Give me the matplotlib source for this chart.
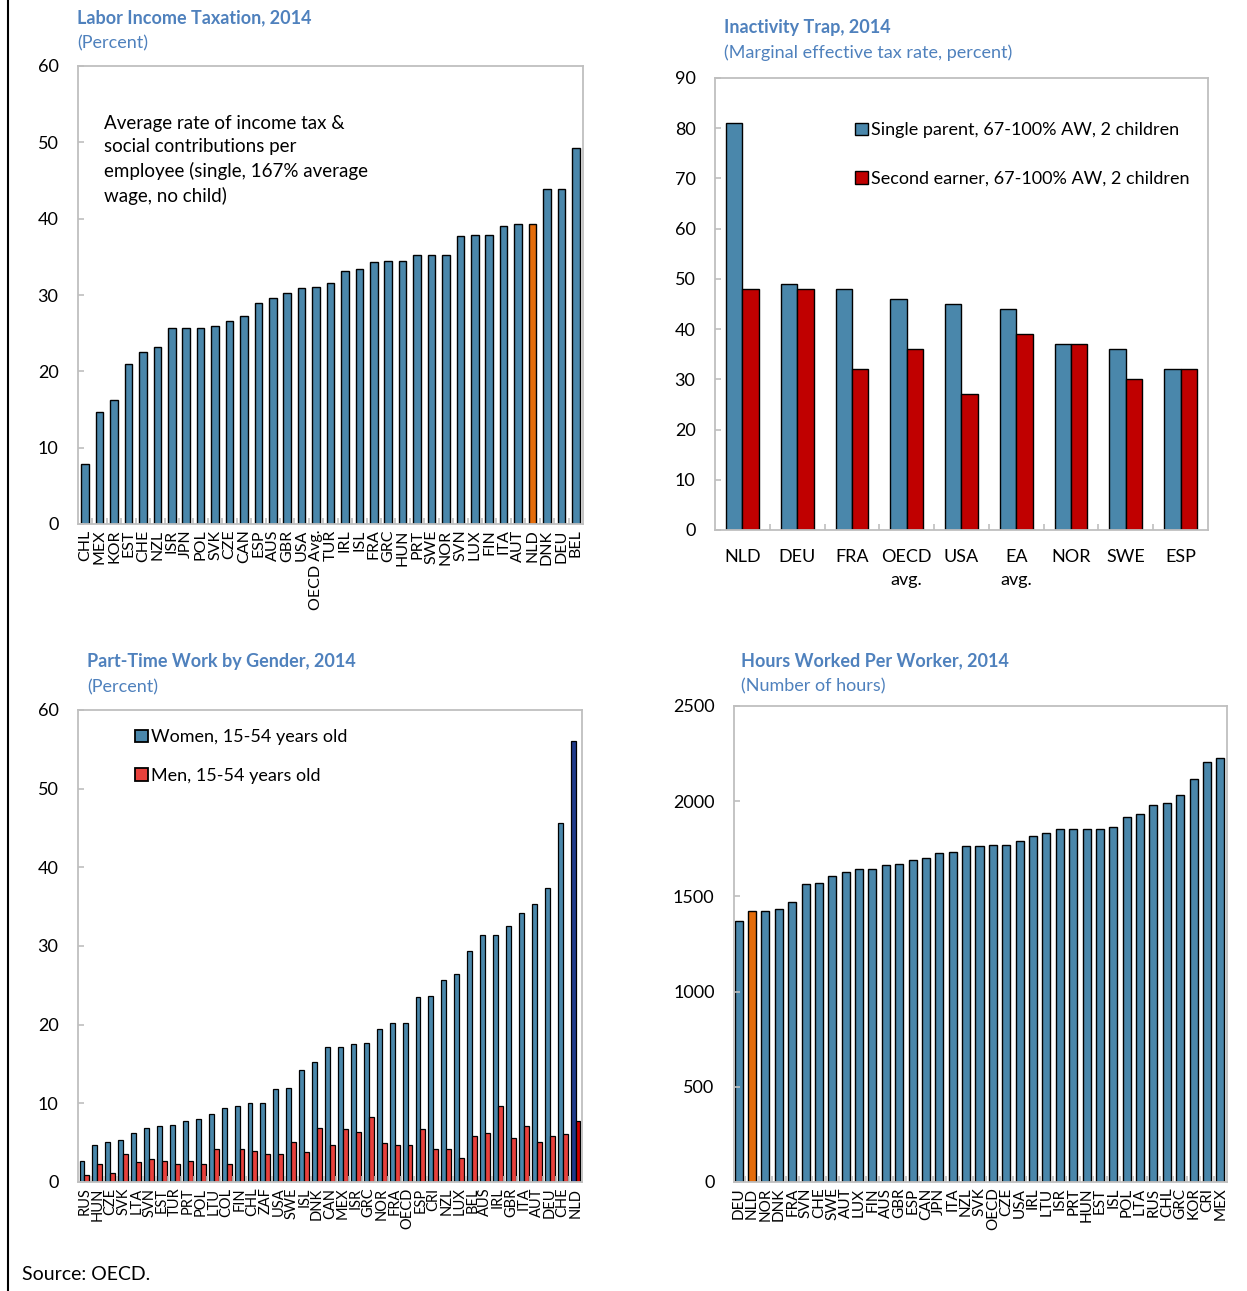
import numpy as np
import matplotlib
matplotlib.use('Agg')
import matplotlib.pyplot as plt
from matplotlib.lines import Line2D

plt.rcParams['font.family'] = ['Lato', 'DejaVu Sans']

# panel 1: labor income taxation
tax_labels = ['CHL', 'MEX', 'KOR', 'EST', 'CHE', 'NZL', 'ISR', 'JPN', 'POL', 'SVK', 'CZE', 'CAN',
              'ESP', 'AUS', 'GBR', 'USA', 'OECD Avg.', 'TUR', 'IRL', 'ISL', 'FRA', 'GRC', 'HUN',
              'PRT', 'SWE', 'NOR', 'SVN', 'LUX', 'FIN', 'ITA', 'AUT', 'NLD', 'DNK', 'DEU', 'BEL']
tax_values = [7.9, 14.7, 16.3, 20.9, 22.5, 23.2, 25.7, 25.7, 25.7, 25.9, 26.6, 27.3,
              28.9, 29.6, 30.3, 30.9, 31.1, 31.6, 33.2, 33.4, 34.3, 34.5, 34.5,
              35.2, 35.2, 35.2, 37.7, 37.9, 37.9, 39.1, 39.3, 39.3, 43.9, 43.9, 49.3]

# panel 2: inactivity trap
trap_labels = ['NLD', 'DEU', 'FRA', 'OECD\navg.', 'USA', 'EA\navg.', 'NOR', 'SWE', 'ESP']
single_parent = [81, 49, 48, 46, 45, 44, 37, 36, 32]
second_earner = [48, 48, 32, 36, 27, 39, 37, 30, 32]

# panel 3: part-time work by gender
pt_labels = ['RUS', 'HUN', 'CZE', 'SVK', 'LTA', 'SVN', 'EST', 'TUR', 'PRT', 'POL', 'LTU', 'COL',
             'FIN', 'CHL', 'ZAF', 'USA', 'SWE', 'ISL', 'DNK', 'CAN', 'MEX', 'ISR', 'GRC', 'NOR',
             'FRA', 'OECD', 'ESP', 'CRI', 'NZL', 'LUX', 'BEL', 'AUS', 'IRL', 'GBR', 'ITA', 'AUT',
             'DEU', 'CHE', 'NLD']
pt_women = [2.7, 4.7, 5.1, 5.3, 6.2, 6.9, 7.1, 7.3, 7.8, 8.0, 8.7, 9.4,
            9.6, 10.0, 10.0, 11.8, 12.0, 14.2, 15.3, 17.1, 17.1, 17.5, 17.7, 19.5,
            20.2, 20.2, 23.5, 23.7, 25.7, 26.4, 29.4, 31.4, 31.4, 32.5, 34.2, 35.4,
            37.4, 45.6, 56.0]
pt_men = [0.9, 2.3, 1.1, 3.6, 2.5, 2.9, 2.7, 2.3, 2.7, 2.3, 4.2, 2.3,
          4.2, 4.0, 3.6, 3.6, 5.1, 3.8, 6.9, 4.7, 6.7, 6.4, 8.2, 4.9,
          4.7, 4.7, 6.7, 4.2, 4.2, 3.1, 5.8, 6.2, 9.6, 5.6, 7.1, 5.1,
          5.8, 6.1, 7.8]

# panel 4: hours worked per worker
hrs_labels = ['DEU', 'NLD', 'NOR', 'DNK', 'FRA', 'SVN', 'CHE', 'SWE', 'AUT', 'LUX', 'FIN', 'AUS',
              'GBR', 'ESP', 'CAN', 'JPN', 'ITA', 'NZL', 'SVK', 'OECD', 'CZE', 'USA', 'IRL', 'LTU',
              'ISR', 'PRT', 'HUN', 'EST', 'ISL', 'POL', 'LTA', 'RUS', 'CHL', 'GRC', 'KOR', 'CRI', 'MEX']
hrs_values = [1372, 1424, 1424, 1435, 1471, 1564, 1572, 1609, 1627, 1644, 1644, 1663,
              1672, 1689, 1700, 1726, 1735, 1763, 1763, 1771, 1771, 1790, 1817, 1834,
              1853, 1853, 1853, 1853, 1862, 1916, 1935, 1981, 1990, 2035, 2117, 2208, 2225]

BLUE = '#4A87AB'
ORANGE = '#E46C0A'
DARKRED = '#C00000'
RED = '#E8413C'
NAVY = '#1F3A8A'
TITLE = '#4F81BD'
FRAME = '#BFBFBF'

W, H = 1247, 1291
fig = plt.figure(figsize=(W / 100, H / 100), dpi=100)


def add_ax(l, t, r, b):
    return fig.add_axes([l / W, 1 - b / H, (r - l) / W, (b - t) / H])


def style(ax, n, xlim):
    for s in ax.spines.values():
        s.set_color(FRAME)
        s.set_linewidth(1.3)
    ax.set_xlim(*xlim)
    ax.set_xticks(np.arange(n))
    ax.set_xticks(np.arange(n - 1) + 0.5, minor=True)
    ax.tick_params(axis='x', which='major', length=0, pad=4)
    ax.tick_params(axis='x', which='minor', direction='in', length=4, color=FRAME, width=1.2)
    ax.tick_params(axis='y', direction='in', length=4, color=FRAME, width=1.2,
                   labelsize=13, pad=14)


def titles(x, y, title, sub):
    fig.text(x / W, 1 - y / H, title, color=TITLE, fontsize=13, fontweight='bold', va='center')
    fig.text(x / W, 1 - (y + 25) / H, sub, color=TITLE, fontsize=13, va='center')


# ---- panel 1
ax1 = add_ax(78, 66, 583, 524)
x1 = np.arange(len(tax_labels))
cols1 = [ORANGE if c == 'NLD' else BLUE for c in tax_labels]
ax1.bar(x1, tax_values, width=0.52, color=cols1, edgecolor='black', linewidth=1)
ax1.set_ylim(0, 60)
ax1.set_yticks(range(0, 61, 10))
style(ax1, len(tax_labels), (-0.5, 34.5))
ax1.set_xticklabels(tax_labels, rotation=90, fontsize=11.5, va='top', linespacing=0.9)
ax1.text(0.051, 0.893, 'Average rate of income tax &\nsocial contributions per\n'
         'employee (single, 167% average\nwage, no child)',
         transform=ax1.transAxes, fontsize=13.5, va='top', linespacing=1.45)
titles(77, 18, 'Labor Income Taxation, 2014', '(Percent)')

# ---- panel 2
ax2 = add_ax(715, 78, 1208, 530)
x2 = np.arange(len(trap_labels))
ax2.bar(x2 - 0.15, single_parent, width=0.3, color=BLUE, edgecolor='black', linewidth=1,
        label='Single parent, 67-100% AW, 2 children')
ax2.bar(x2 + 0.15, second_earner, width=0.3, color=DARKRED, edgecolor='black', linewidth=1,
        label='Second earner, 67-100% AW, 2 children')
ax2.set_ylim(0, 90)
ax2.set_yticks(range(0, 91, 10))
style(ax2, len(trap_labels), (-0.5, 8.5))
ax2.set_xticklabels(trap_labels, fontsize=13, linespacing=1.5)
ax2.tick_params(axis='x', which='major', pad=14)
ax2.legend(loc='upper left', bbox_to_anchor=(0.266, 0.922), frameon=False, fontsize=13,
           handlelength=0.7, handleheight=0.7, handletextpad=0.2, labelspacing=1.8,
           borderpad=0)
titles(724, 28, 'Inactivity Trap, 2014', '(Marginal effective tax rate, percent)')

# ---- panel 3
ax3 = add_ax(78, 710, 582, 1182)
x3 = np.arange(len(pt_labels))
cw = [NAVY if c == 'NLD' else BLUE for c in pt_labels]
cm = ['#D00000' if c == 'NLD' else RED for c in pt_labels]
ax3.bar(x3 - 0.19, pt_women, width=0.38, color=cw, edgecolor='black', linewidth=0.9)
ax3.bar(x3 + 0.19, pt_men, width=0.38, color=cm, edgecolor='black', linewidth=0.9)
ax3.set_ylim(0, 60)
ax3.set_yticks(range(0, 61, 10))
style(ax3, len(pt_labels), (-0.5, 38.5))
ax3.set_xticklabels(pt_labels, rotation=90, fontsize=10.5, va='top')
h_w = plt.Rectangle((0, 0), 1, 1, facecolor=BLUE, edgecolor='black', linewidth=1.3)
h_m = plt.Rectangle((0, 0), 1, 1, facecolor=RED, edgecolor='black', linewidth=1.3)
ax3.legend([h_w, h_m], ['Women, 15-54 years old', 'Men, 15-54 years old'],
           loc='upper left', bbox_to_anchor=(0.095, 0.978), frameon=False, fontsize=13,
           handlelength=0.7, handleheight=0.7, handletextpad=0.2, labelspacing=1.25,
           borderpad=0)
titles(87, 662, 'Part-Time Work by Gender, 2014', '(Percent)')

# ---- panel 4
ax4 = add_ax(734, 706, 1227, 1182)
x4 = np.arange(len(hrs_labels))
cols4 = [ORANGE if c == 'NLD' else BLUE for c in hrs_labels]
ax4.bar(x4, hrs_values, width=0.6, color=cols4, edgecolor='black', linewidth=1)
ax4.set_ylim(0, 2500)
ax4.set_yticks(range(0, 2501, 500))
style(ax4, len(hrs_labels), (-0.35, 36.5))
ax4.set_xticklabels(hrs_labels, rotation=90, fontsize=11, va='top')
titles(741, 661, 'Hours Worked Per Worker, 2014', '(Number of hours)')

# left border and source
fig.add_artist(Line2D([8 / W, 8 / W], [0, 1], color='black', linewidth=1.5))
fig.text(22 / W, 1 - 1274 / H, 'Source: OECD.', fontsize=14, va='center')

fig.savefig('out.png', dpi=100)
